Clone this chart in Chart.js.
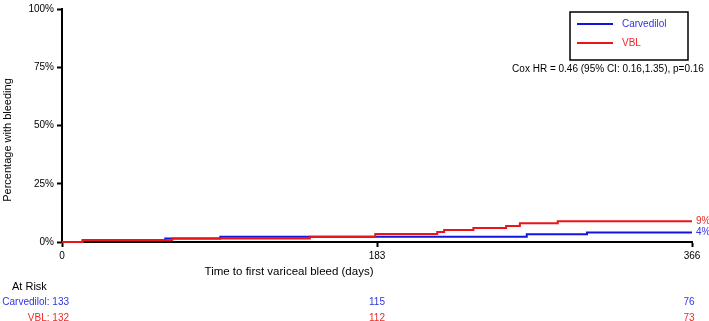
<!DOCTYPE html>
<html>
<head>
<meta charset="utf-8">
<script src="https://cdn.jsdelivr.net/npm/chart.js@4"></script>
<style>
  html, body { margin: 0; padding: 0; background: #fff; }
  canvas { display: block; }
</style>
</head>
<body>
<canvas id="km_chart" width="709" height="321"></canvas>
<script>
// Kaplan-Meier steps (day, % with bleeding)
const carvedilolDays = [0, 12, 60, 92, 270, 305, 366];
const carvedilolPct  = [0, 0.75, 1.5, 2.3, 3.3, 4.1, 4.1];
const vblDays = [0, 12, 64, 144, 182, 218, 222, 239, 258, 266, 288, 366];
const vblPct  = [0, 0.76, 1.5, 2.3, 3.4, 4.3, 5.1, 6.0, 6.9, 8.0, 8.9, 8.9];

const seriesNames = ["Carvedilol", "VBL"];
const endLabels = ["4%", "9%"];
const xTicks = [0, 183, 366];
const yTicks = [0, 25, 50, 75, 100];

const atRiskDays = [0, 183, 366];
const carvedilolAtRisk = [133, 115, 76];
const vblAtRisk = [132, 112, 73];

const coxText = "Cox HR = 0.46 (95% CI: 0.16,1.35), p=0.16";

const lineColors = ["rgb(20, 20, 225)", "rgb(235, 20, 25)"];
const textColors = ["rgb(50, 50, 230)", "rgb(240, 40, 40)"];
const FONT = "'Liberation Sans', Arial, sans-serif";

const toPoints = (days, pct) => days.map((d, i) => ({ x: d, y: pct[i] }));

const extrasPlugin = {
    id: 'extras',
    afterDatasetsDraw(chart) {
        const ctx = chart.ctx;
        const xs = chart.scales.x;
        const ys = chart.scales.y;
        ctx.save();

        // end-of-curve labels
        ctx.font = "10px " + FONT;
        ctx.textAlign = 'left';
        ctx.textBaseline = 'middle';
        chart.data.datasets.forEach((ds, i) => {
            const last = ds.data[ds.data.length - 1];
            ctx.fillStyle = textColors[i];
            ctx.fillText(endLabels[i], xs.getPixelForValue(last.x) + 4, ys.getPixelForValue(last.y));
        });

        // y title
        ctx.save();
        ctx.translate(8, 140);
        ctx.rotate(-Math.PI / 2);
        ctx.textAlign = 'center';
        ctx.fillStyle = '#000';
        ctx.font = "11px " + FONT;
        ctx.fillText("Percentage with bleeding", 0, 0);
        ctx.restore();

        // x title
        ctx.fillStyle = '#000';
        ctx.textAlign = 'center';
        ctx.font = "11.5px " + FONT;
        ctx.fillText("Time to first variceal bleed (days)", 289, 272);

        // legend box
        ctx.strokeStyle = '#000';
        ctx.lineWidth = 1.5;
        ctx.strokeRect(570, 12, 118, 48);
        ctx.font = "10px " + FONT;
        ctx.textAlign = 'left';
        [24, 43].forEach((ly, i) => {
            ctx.strokeStyle = lineColors[i];
            ctx.lineWidth = 2;
            ctx.beginPath();
            ctx.moveTo(577, ly);
            ctx.lineTo(613, ly);
            ctx.stroke();
            ctx.fillStyle = textColors[i];
            ctx.fillText(seriesNames[i], 622, ly);
        });

        // Cox HR
        ctx.fillStyle = '#000';
        ctx.textAlign = 'center';
        ctx.fillText(coxText, 608, 69);

        // at risk table
        ctx.font = "11px " + FONT;
        ctx.textAlign = 'left';
        ctx.fillText("At Risk", 12, 287);
        ctx.font = "10px " + FONT;
        [carvedilolAtRisk, vblAtRisk].forEach((row, i) => {
            const ry = i === 0 ? 302 : 318;
            ctx.fillStyle = textColors[i];
            row.forEach((n, j) => {
                const px = xs.getPixelForValue(atRiskDays[j]);
                if (j === 0) {
                    ctx.textAlign = 'right';
                    ctx.fillText(seriesNames[i] + ": " + n, px + 7, ry);
                } else {
                    ctx.textAlign = 'center';
                    ctx.fillText(String(n), j === row.length - 1 ? px - 3 : px, ry);
                }
            });
        });
        ctx.restore();
    }
};

const ctx = document.getElementById("km_chart").getContext("2d");
const km_chart = new Chart(ctx, {
    type: 'line',
    data: {
        datasets: [
            { label: seriesNames[0], data: toPoints(carvedilolDays, carvedilolPct), borderColor: lineColors[0], order: 1, clip: 4 },
            { label: seriesNames[1], data: toPoints(vblDays, vblPct), borderColor: lineColors[1], order: 0, clip: 4 },
        ]
    },
    options: {
        responsive: false,
        animation: false,
        devicePixelRatio: 1,
        layout: { padding: { left: 0, right: 17, top: 7, bottom: 0 } },
        elements: {
            line: { borderWidth: 2, stepped: true, fill: false },
            point: { radius: 0 },
        },
        plugins: { legend: { display: false }, tooltip: { enabled: false } },
        scales: {
            x: {
                type: 'linear', min: 0, max: 366,
                afterBuildTicks: (s) => { s.ticks = xTicks.map(v => ({ value: v })); },
                afterFit: (s) => { s.height = 79; },
                grid: { drawOnChartArea: false, drawTicks: true, tickLength: 5, tickColor: '#000', tickWidth: 2 },
                border: { display: true, color: '#000', width: 2 },
                ticks: { color: '#000', font: { family: FONT, size: 10 }, padding: 3, maxRotation: 0 },
            },
            y: {
                min: 0, max: 100,
                afterBuildTicks: (s) => { s.ticks = yTicks.map(v => ({ value: v })); },
                afterFit: (s) => { s.width = 62; },
                grid: { drawOnChartArea: false, drawTicks: true, tickLength: 5, tickColor: '#000', tickWidth: 2 },
                border: { display: true, color: '#000', width: 2 },
                ticks: { color: '#000', font: { family: FONT, size: 10 }, padding: 3, callback: (v) => v + '%' },
            }
        }
    },
    plugins: [extrasPlugin]
});
</script>
</body>
</html>
